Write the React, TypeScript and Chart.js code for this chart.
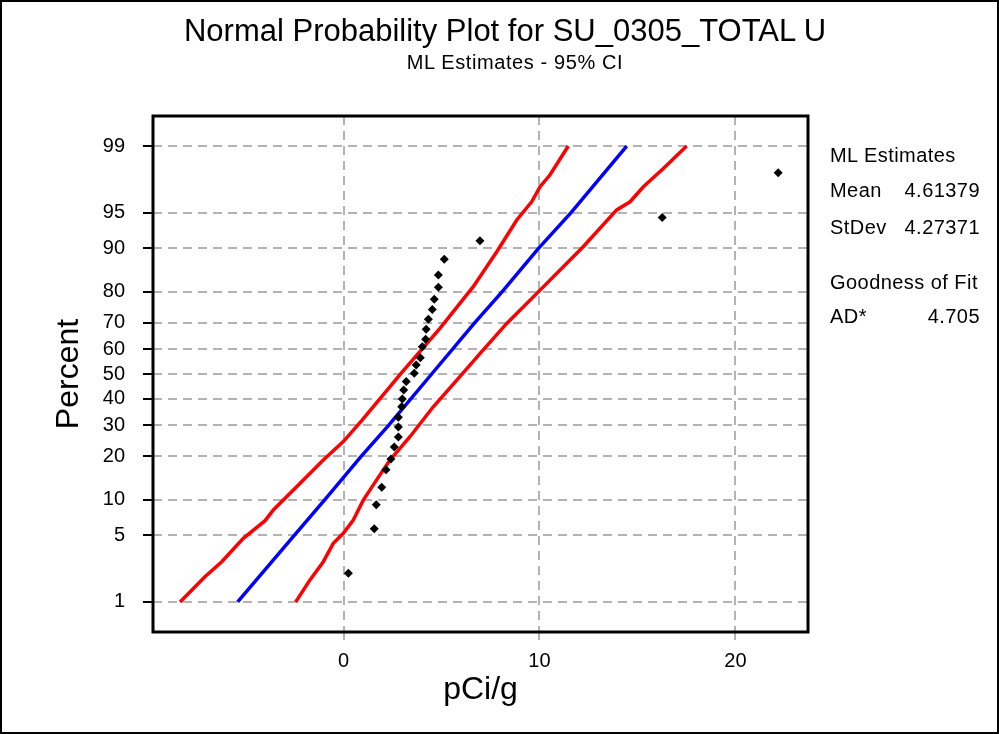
import React, { useEffect, useRef } from "react";
import { Chart, registerables } from "chart.js";

Chart.register(...registerables);

const TITLE = "Normal Probability Plot for SU_0305_TOTAL U";
const SUBTITLE = "ML Estimates - 95% CI";
const X_LABEL = "pCi/g";
const Y_LABEL = "Percent";
const X_TICKS = [0, 10, 20];
const PCT_TICKS = [1, 5, 10, 20, 30, 40, 50, 60, 70, 80, 90, 95, 99];
const X_MIN = -9.72;
const X_MAX = 23.7;
const PCT_MIN = 0.423;
const PCT_MAX = 99.577;

// observations (pCi/g) and their plotted percent
const OBS_X = [0.25, 1.57, 1.67, 1.95, 2.17, 2.42, 2.59, 2.8, 2.8, 2.8, 2.97, 3.0, 3.07, 3.2, 3.61, 3.71, 3.92, 4.02, 4.19, 4.22, 4.33, 4.53, 4.63, 4.84, 4.84, 5.14, 6.96, 16.26, 22.18];
const OBS_PCT = [2.1, 5.7, 9.1, 12.4, 16.4, 19.3, 22.8, 26.0, 29.4, 32.9, 36.9, 39.9, 43.5, 46.9, 50.3, 53.7, 56.6, 61.0, 63.9, 67.6, 71.2, 74.5, 77.7, 81.2, 84.4, 87.9, 91.3, 94.5, 98.0];

// fitted line
const FIT_PCT = [1, 5, 10, 20, 30, 50, 70, 80, 90, 95, 99];
const FIT_X = [-5.4, -2.5, -0.95, 0.9, 2.3, 4.5, 6.7, 8.1, 9.95, 11.6, 14.45];

// 95% CI bands
const LO_PCT = [1.0, 1.93, 2.77, 4.68, 6.72, 8.26, 12.5, 19.0, 24.5, 31.9, 39.5, 50.9, 67.9, 81.35, 89.4, 94.2, 96.06, 97.2, 97.9, 99.0];
const LO_X = [-8.34, -7.07, -6.21, -5.11, -4.0, -3.58, -2.39, -1.03, -0.01, 0.95, 1.8, 3.0, 4.92, 6.62, 7.82, 8.84, 9.6, 10.03, 10.54, 11.47];
const HI_PCT = [1.0, 1.78, 2.77, 4.2, 5.2, 6.8, 9.9, 14.0, 19.0, 26.1, 36.9, 48.2, 59.7, 69.7, 80.4, 90.3, 95.3, 96.06, 97.2, 98.2, 99.0];
const HI_X = [-2.44, -1.71, -1.03, -0.52, -0.01, 0.5, 1.01, 1.69, 2.37, 3.39, 4.58, 5.86, 7.13, 8.33, 10.03, 12.23, 13.94, 14.62, 15.3, 16.32, 17.51];

const STATS_HEAD = "ML Estimates";
const STAT_NAMES = ["Mean", "StDev"];
const STAT_VALUES = ["4.61379", "4.27371"];
const GOF_HEAD = "Goodness of Fit";
const GOF_NAME = "AD*";
const GOF_VALUE = "4.705";

const FONT = "'Liberation Sans', Arial, sans-serif";

function probit(p: number): number {
  const a = [-3.969683028665376e1, 2.209460984245205e2, -2.759285104469687e2, 1.38357751867269e2, -3.066479806614716e1, 2.506628277459239];
  const b = [-5.447609879822406e1, 1.615858368580409e2, -1.556989798598866e2, 6.680131188771972e1, -1.328068155288572e1];
  const c = [-7.784894002430293e-3, -3.223964580411365e-1, -2.400758277161838, -2.549732539343734, 4.374664141464968, 2.938163982698783];
  const d = [7.784695709041462e-3, 3.224671290700398e-1, 2.445134137142996, 3.754408661907416];
  const pl = 0.02425;
  if (p < pl) {
    const q = Math.sqrt(-2 * Math.log(p));
    return (((((c[0] * q + c[1]) * q + c[2]) * q + c[3]) * q + c[4]) * q + c[5]) / ((((d[0] * q + d[1]) * q + d[2]) * q + d[3]) * q + 1);
  }
  if (p <= 1 - pl) {
    const q = p - 0.5;
    const r = q * q;
    return ((((((a[0] * r + a[1]) * r + a[2]) * r + a[3]) * r + a[4]) * r + a[5]) * q) / (((((b[0] * r + b[1]) * r + b[2]) * r + b[3]) * r + b[4]) * r + 1);
  }
  const q = Math.sqrt(-2 * Math.log(1 - p));
  return -(((((c[0] * q + c[1]) * q + c[2]) * q + c[3]) * q + c[4]) * q + c[5]) / ((((d[0] * q + d[1]) * q + d[2]) * q + d[3]) * q + 1);
}

const toPts = (xs: number[], ps: number[]) => xs.map((x, i) => ({ x, y: probit(ps[i] / 100) }));

const framePlugin = {
  id: "frame",
  afterDatasetsDraw(chart: any) {
    const { ctx, chartArea } = chart;
    const { left, top, right, bottom } = chartArea;
    ctx.save();
    ctx.strokeStyle = "#000";
    ctx.lineWidth = 3;
    ctx.strokeRect(left, top, right - left, bottom - top);
    ctx.restore();
  },
};

export default function App() {
  const ref = useRef<HTMLCanvasElement | null>(null);

  useEffect(() => {
    if (!ref.current) return;
    const grid = "#b3b3b3";
    const chart = new Chart(ref.current, {
      type: "scatter",
      data: {
        datasets: [
          {
            label: "Observations",
            data: toPts(OBS_X, OBS_PCT),
            pointStyle: "rectRot",
            pointRadius: 4.5,
            pointBackgroundColor: "#000",
            pointBorderColor: "#000",
            pointBorderWidth: 0,
            showLine: false,
          },
          {
            label: "Fit",
            data: toPts(FIT_X, FIT_PCT),
            showLine: true,
            borderColor: "#0000ff",
            borderWidth: 3.5,
            pointRadius: 0,
            tension: 0,
          },
          {
            label: "Lower",
            data: toPts(LO_X, LO_PCT),
            showLine: true,
            borderColor: "#ff0000",
            borderWidth: 3.5,
            pointRadius: 0,
            tension: 0,
          },
          {
            label: "Upper",
            data: toPts(HI_X, HI_PCT),
            showLine: true,
            borderColor: "#ff0000",
            borderWidth: 3.5,
            pointRadius: 0,
            tension: 0,
          },
        ],
      },
      options: {
        responsive: false,
        animation: false,
        events: [],
        layout: { padding: { top: 116, right: 191, left: 0, bottom: 0 } },
        plugins: {
          legend: { display: false },
          tooltip: { enabled: false },
          title: { display: false },
        },
        scales: {
          x: {
            type: "linear",
            min: X_MIN,
            max: X_MAX,
            afterBuildTicks: (s: any) => {
              s.ticks = X_TICKS.map((v) => ({ value: v }));
            },
            afterFit: (s: any) => {
              s.height = 102;
            },
            ticks: {
              color: "#000",
              font: { family: FONT, size: 20 },
              padding: 9,
              maxRotation: 0,
            },
            grid: {
              color: grid,
              lineWidth: 2,
              tickColor: grid,
              tickLength: 8,
              tickWidth: 2,
            },
            border: { display: false, dash: [9, 6] },
            title: {
              display: true,
              text: X_LABEL,
              color: "#000",
              font: { family: FONT, size: 32 },
              padding: { top: 0, bottom: 25 },
            },
          },
          y: {
            type: "linear",
            min: probit(PCT_MIN / 100),
            max: probit(PCT_MAX / 100),
            afterBuildTicks: (s: any) => {
              s.ticks = PCT_TICKS.map((p) => ({ value: probit(p / 100) }));
            },
            afterFit: (s: any) => {
              s.width = 153;
            },
            ticks: {
              color: "#000",
              font: { family: FONT, size: 20 },
              padding: 18,
              callback: (_v: any, i: number) => String(PCT_TICKS[i]),
            },
            grid: {
              color: grid,
              lineWidth: 2,
              tickColor: "#000",
              tickLength: 10,
              tickWidth: 2,
            },
            border: { display: false, dash: [9, 6] },
            title: {
              display: true,
              text: Y_LABEL,
              color: "#000",
              font: { family: FONT, size: 32 },
              padding: { top: 50, bottom: 0 },
            },
          },
        },
      },
      plugins: [framePlugin],
    } as any);
    return () => chart.destroy();
  }, []);

  const txt: React.CSSProperties = {
    position: "absolute",
    fontFamily: FONT,
    color: "#000",
    whiteSpace: "nowrap",
  };
  const stat: React.CSSProperties = {
    ...txt,
    left: 830,
    width: 150,
    fontSize: 20,
    letterSpacing: "0.45px",
    lineHeight: "24px",
    display: "flex",
    justifyContent: "space-between",
  };

  return (
    <div style={{ position: "absolute", left: 0, top: 0, width: 999, height: 734, background: "#fff", overflow: "hidden" }}>
      <canvas ref={ref} width={999} height={734} style={{ position: "absolute", left: 0, top: 0, display: "block" }} />
      <div style={{ ...txt, left: 0, width: 1010, textAlign: "center", top: 13, fontSize: 31, lineHeight: "36px" }}>{TITLE}</div>
      <div style={{ ...txt, left: 0, width: 1030, textAlign: "center", top: 50, fontSize: 20, letterSpacing: "0.6px", lineHeight: "24px" }}>{SUBTITLE}</div>
      <div style={{ ...stat, top: 143 }}>{STATS_HEAD}</div>
      {STAT_NAMES.map((n, i) => (
        <div key={n} style={{ ...stat, top: 178 + i * 36.5 }}>
          <span>{n}</span>
          <span>{STAT_VALUES[i]}</span>
        </div>
      ))}
      <div style={{ ...stat, top: 270 }}>{GOF_HEAD}</div>
      <div style={{ ...stat, top: 304 }}>
        <span>{GOF_NAME}</span>
        <span>{GOF_VALUE}</span>
      </div>
      <div style={{ position: "absolute", left: 0, top: 0, width: 999, height: 734, border: "2px solid #000", boxSizing: "border-box", pointerEvents: "none" }} />
    </div>
  );
}
